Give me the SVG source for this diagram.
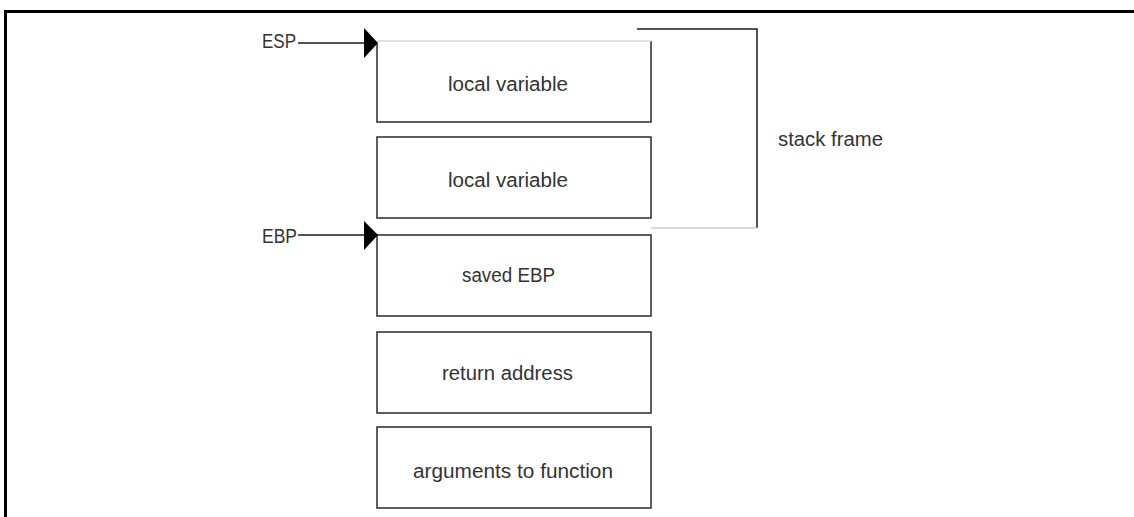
<svg xmlns="http://www.w3.org/2000/svg" width="1134" height="517" viewBox="0 0 1134 517">
<defs>
<style>
.box{fill:#ffffff;stroke:#2a2a2a;stroke-width:1.5}
.lbl{font-family:"Liberation Sans",Arial,sans-serif;font-size:20px;fill:#333333}
.con{stroke:#1a1a1a;stroke-width:1.5;fill:none}
.head{fill:#000000}
</style>
</defs>
<rect x="0" y="0" width="1134" height="517" fill="#ffffff"/>
<g id="border">
<path d="M5.5,517 V11.5 H1134" fill="none" stroke="#000" stroke-width="3"/>
</g>
<g id="node-local1">
<path class="box" d="M377,43 V122 H651 V41"/>
<line x1="377" y1="41" x2="651" y2="41" stroke="#d8d8d8" stroke-width="1.5"/>
<text class="lbl" x="448" y="91" textLength="120" lengthAdjust="spacingAndGlyphs">local variable</text>
</g>
<g id="node-local2">
<rect class="box" x="377" y="137" width="274" height="81"/>
<text class="lbl" x="448" y="187" textLength="120" lengthAdjust="spacingAndGlyphs">local variable</text>
</g>
<g id="node-savedebp">
<rect class="box" x="377" y="235" width="274" height="81"/>
<text class="lbl" x="462" y="282" textLength="93" lengthAdjust="spacingAndGlyphs">saved EBP</text>
</g>
<g id="node-ret">
<rect class="box" x="377" y="332" width="274" height="81"/>
<text class="lbl" x="442" y="380" textLength="131" lengthAdjust="spacingAndGlyphs">return address</text>
</g>
<g id="node-args">
<rect class="box" x="377" y="427" width="274" height="81"/>
<text class="lbl" x="413" y="478" textLength="200" lengthAdjust="spacingAndGlyphs">arguments to function</text>
</g>
<g id="node-esp">
<text class="lbl" x="262" y="48" textLength="34" lengthAdjust="spacingAndGlyphs">ESP</text>
</g>
<g id="node-ebp">
<text class="lbl" x="262" y="243" textLength="35" lengthAdjust="spacingAndGlyphs">EBP</text>
</g>
<g id="node-stackframe">
<text class="lbl" x="778" y="146" textLength="105" lengthAdjust="spacingAndGlyphs">stack frame</text>
</g>
<g id="connectors">
<line class="con" x1="298" y1="43" x2="370" y2="43"/>
<polygon class="head" points="364,28 378,43 364,58"/>
<line class="con" x1="298" y1="235" x2="370" y2="235"/>
<polygon class="head" points="364,221 378,235 364,250"/>
<path class="con" d="M637,29 H757 V228"/>
<line x1="651" y1="228" x2="757" y2="228" stroke="#cfcfcf" stroke-width="1.5"/>
</g>
</svg>
